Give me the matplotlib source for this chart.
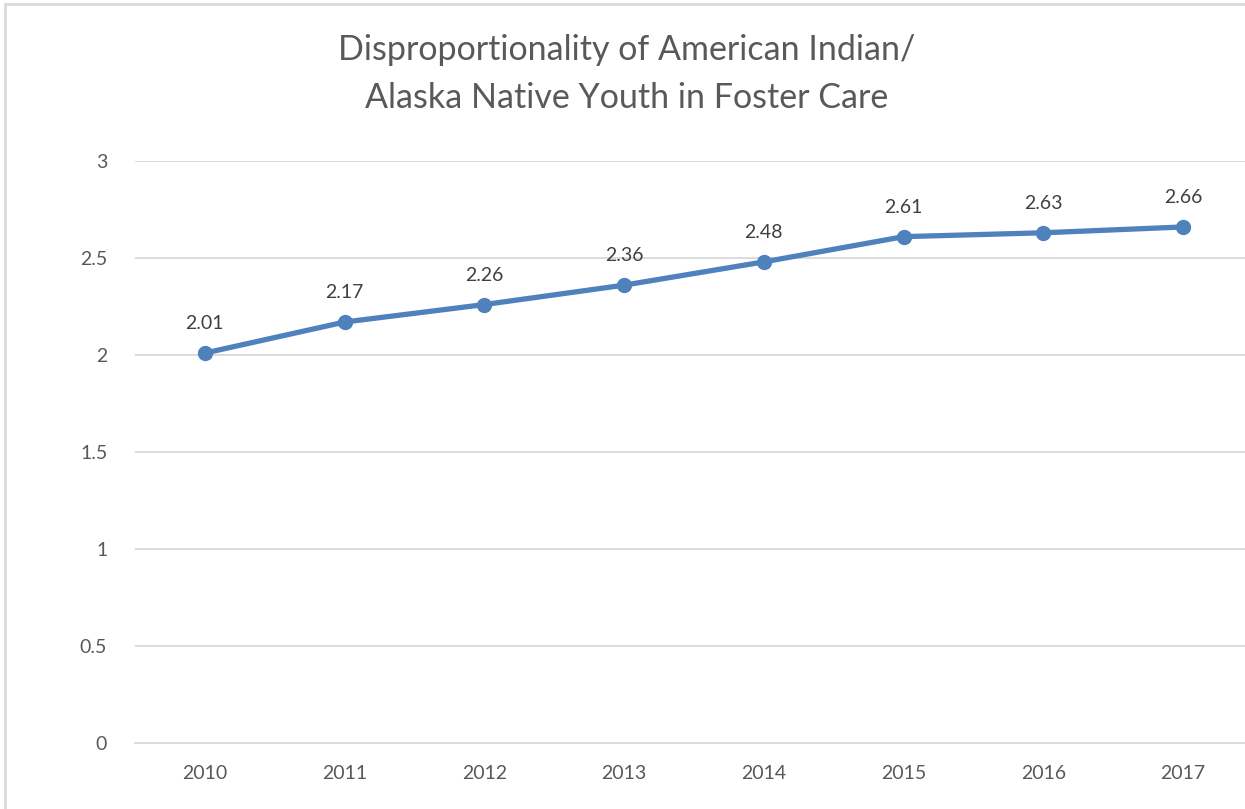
import matplotlib.pyplot as plt
from matplotlib.patches import Rectangle

# Data
years = ["2010", "2011", "2012", "2013", "2014", "2015", "2016", "2017"]
ratio = [2.01, 2.17, 2.26, 2.36, 2.48, 2.61, 2.63, 2.66]

plt.rcParams['font.family'] = ['Lato', 'DejaVu Sans']

fig = plt.figure(figsize=(12.45, 8.09), dpi=100)
W, H = 1245, 809

# light chart border (left/top visible in the reference)
fig.patches.append(Rectangle((5 / W, -0.01), 1.02, (H - 4) / H + 0.01,
                             transform=fig.transFigure, fill=False,
                             edgecolor="#d9d9d9", linewidth=2))

ax = fig.add_axes([135 / W, 66 / H, 1118 / W, 582 / H])
x = range(len(years))
ax.plot(x, ratio, color="#4f81bd", linewidth=3.8, marker="o", markersize=10,
        solid_capstyle="round", zorder=3)

for xi, v in zip(x, ratio):
    ax.annotate(f"{v:.2f}", (xi, v), xytext=(0, 15), textcoords="offset points",
                ha="center", va="bottom", fontsize=14, color="#404040")

ax.set_xlim(-0.5, len(years) - 0.5)
ax.set_ylim(0, 3)
ax.set_yticks([0, 0.5, 1, 1.5, 2, 2.5, 3])
ax.set_yticklabels(["0", "0.5", "1", "1.5", "2", "2.5", "3"])
ax.set_xticks(list(x))
ax.set_xticklabels(years)
ax.grid(axis="y", color="#d9d9d9", linewidth=1.3)
ax.set_axisbelow(True)
for s in ["left", "right", "top"]:
    ax.spines[s].set_visible(False)
ax.spines["bottom"].set_color("#d9d9d9")
ax.spines["bottom"].set_linewidth(1.3)
ax.tick_params(length=0, labelsize=14, colors="#595959")
ax.tick_params(axis="y", pad=20)
ax.tick_params(axis="x", pad=16)

fig.text(0.503, 0.958, "Disproportionality of American Indian/\nAlaska Native Youth in Foster Care",
         ha="center", va="top", fontsize=24.5, color="#595959", linespacing=1.6)

fig.savefig("out.png", dpi=100)
